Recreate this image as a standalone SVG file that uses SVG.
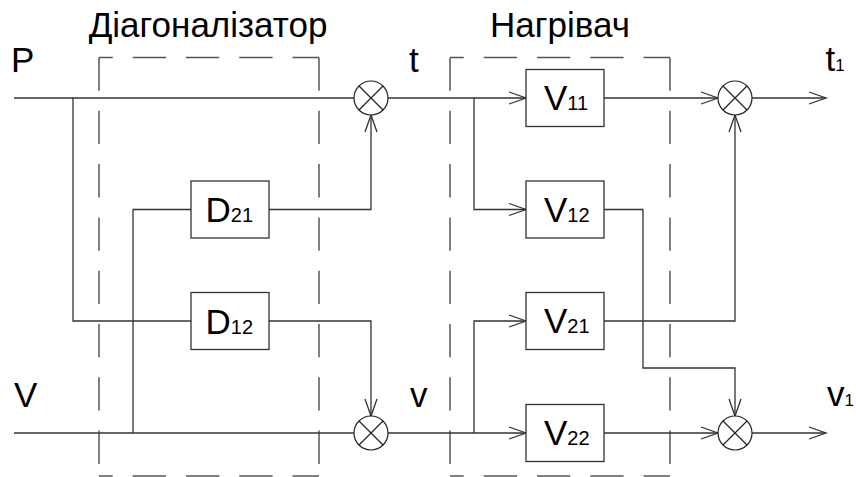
<svg xmlns="http://www.w3.org/2000/svg" width="856" height="477" viewBox="0 0 856 477">
<defs>
<style>
text{font-family:"Liberation Sans",Arial,sans-serif;fill:#000;}
.lbl{font-size:35px;}
.title{font-size:35px;text-anchor:middle;}
.sub{font-size:20px;}
.sub2{font-size:17px;}
.frame{fill:none;stroke:#555;stroke-width:1.5;stroke-dasharray:33.3 20;}
.blk{fill:#fff;stroke:#333;stroke-width:1.3;}
.sum{fill:#fff;stroke:#222;stroke-width:1.2;}
.x{stroke:#222;stroke-width:1.2;}
.wire{fill:none;stroke:#333;stroke-width:1.3;}
.arr{fill:none;stroke:#333;stroke-width:1.3;marker-end:url(#ah);}
</style>
<marker id="ah" markerUnits="userSpaceOnUse" viewBox="-19 -8 20 16" refX="0" refY="0" markerWidth="20" markerHeight="16" orient="auto" overflow="visible">
<path d="M-17,-6 L0,0 L-17,6" fill="none" stroke="#333" stroke-width="1.3"/>
</marker>
</defs>

<g id="frame-diagonalizer">
<text class="title" x="208" y="36.7">Діагоналізатор</text>
<path class="frame" d="M99,57.5 V476"/>
<path class="frame" d="M319,57.5 V476"/>
<path class="frame" d="M99,57.5 H319" stroke-dashoffset="19.6"/>
<path class="frame" d="M99,476 H319" stroke-dashoffset="19.6"/>
</g>

<g id="frame-heater">
<text class="title" x="560" y="36.7">Нагрівач</text>
<path class="frame" d="M450,57.5 V476"/>
<path class="frame" d="M670,57.5 V476"/>
<path class="frame" d="M450,57.5 H670" stroke-dashoffset="19.6"/>
<path class="frame" d="M450,476 H670" stroke-dashoffset="19.6"/>
</g>

<g id="connectors">
<path class="wire" d="M14,98 H354"/>
<path class="wire" d="M73,98 V321 H191"/>
<path class="wire" d="M133,433 V209.5 H191"/>
<path class="wire" d="M14,433 H354"/>
<path class="arr" d="M269,209.5 H371 V115"/>
<path class="arr" d="M269,321 H371 V416"/>
<path class="arr" d="M388,98 H526"/>
<path class="arr" d="M388,433 H526"/>
<path class="arr" d="M474,98 V209.5 H526"/>
<path class="arr" d="M474,433 V321 H526"/>
<path class="arr" d="M604,98 H718"/>
<path class="arr" d="M604,433 H718"/>
<path class="arr" d="M604,209.5 H643 V368 H735 V416"/>
<path class="arr" d="M604,321 H735 V115"/>
<path class="arr" d="M752,98 H826"/>
<path class="arr" d="M752,433 H826"/>
</g>

<g id="label-P"><text class="lbl" x="11" y="72.3">P</text></g>
<g id="label-V"><text class="lbl" x="14" y="406.7">V</text></g>
<g id="label-t"><text class="lbl" x="409" y="72">t</text></g>
<g id="label-v"><text class="lbl" x="410" y="407">v</text></g>
<g id="label-t1"><text class="lbl" x="825.5" y="71">t<tspan class="sub2">1</tspan></text></g>
<g id="label-v1"><text class="lbl" x="827" y="406">v<tspan class="sub2">1</tspan></text></g>

<g id="D21">
<rect class="blk" x="191" y="181" width="78" height="57"/>
<text class="lbl" x="205.5" y="222.3">D<tspan class="sub">21</tspan></text>
</g>
<g id="D12">
<rect class="blk" x="191" y="292.5" width="78" height="57"/>
<text class="lbl" x="205.5" y="333.5">D<tspan class="sub">12</tspan></text>
</g>
<g id="V11">
<rect class="blk" x="526" y="69.5" width="78" height="57"/>
<text class="lbl" x="544" y="109.5">V<tspan class="sub">11</tspan></text>
</g>
<g id="V12">
<rect class="blk" x="526" y="181" width="78" height="57"/>
<text class="lbl" x="544" y="221.7">V<tspan class="sub">12</tspan></text>
</g>
<g id="V21">
<rect class="blk" x="526" y="292.5" width="78" height="57"/>
<text class="lbl" x="544" y="333.3">V<tspan class="sub">21</tspan></text>
</g>
<g id="V22">
<rect class="blk" x="526" y="404.5" width="78" height="57"/>
<text class="lbl" x="544" y="445">V<tspan class="sub">22</tspan></text>
</g>

<g id="sum-t">
<circle class="sum" cx="371" cy="98" r="17"/>
<path class="x" d="M359,86 L383,110 M383,86 L359,110"/>
</g>
<g id="sum-v">
<circle class="sum" cx="371" cy="433" r="17"/>
<path class="x" d="M359,421 L383,445 M383,421 L359,445"/>
</g>
<g id="sum-t1">
<circle class="sum" cx="735" cy="98" r="17"/>
<path class="x" d="M723,86 L747,110 M747,86 L723,110"/>
</g>
<g id="sum-v1">
<circle class="sum" cx="735" cy="433" r="17"/>
<path class="x" d="M723,421 L747,445 M747,421 L723,445"/>
</g>
</svg>
